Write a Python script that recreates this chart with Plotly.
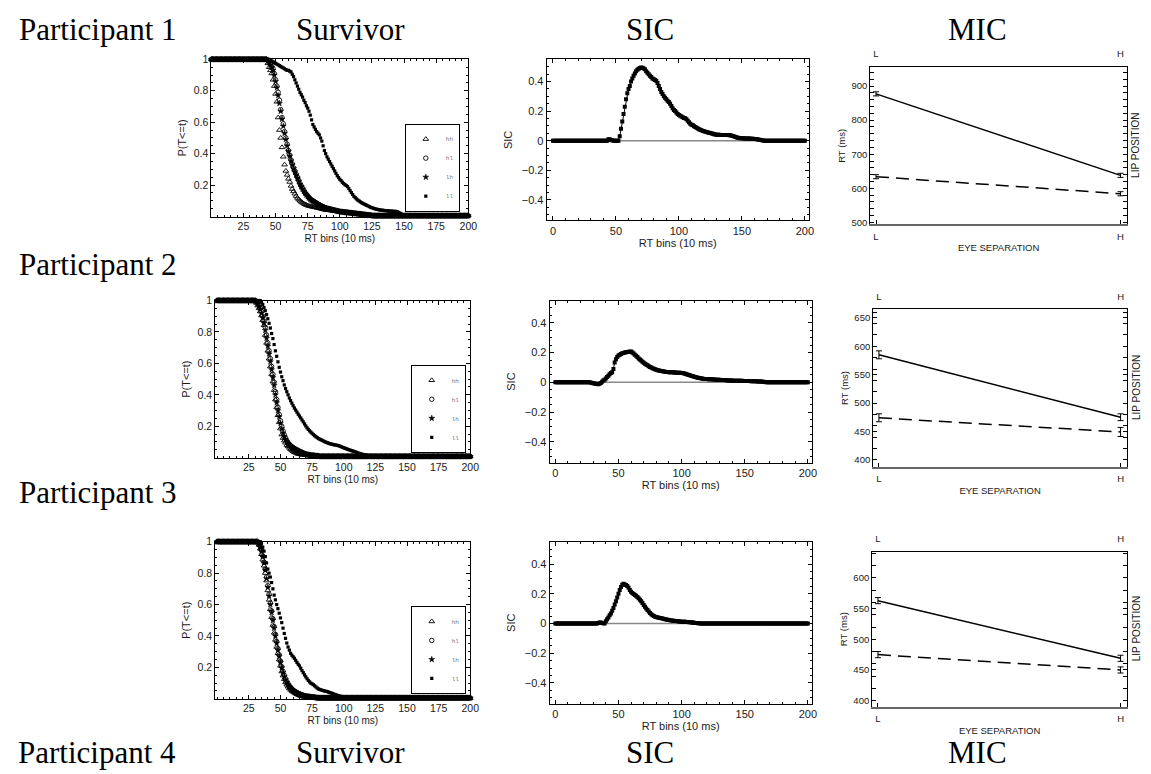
import plotly.graph_objects as go

W, H = 1151, 774

# ---------------- data ----------------
BINS = list(range(201))
CONDITIONS = ["hh", "hl", "lh", "ll"]
PARTICIPANTS = ["Participant 1", "Participant 2", "Participant 3", "Participant 4"]
COLUMN_TITLES = ["Survivor", "SIC", "MIC"]
FACTOR_LEVELS = ["L", "H"]
SURV_XTICKS = [25, 50, 75, 100, 125, 150, 175, 200]
SURV_YTICKS = [0.2, 0.4, 0.6, 0.8, 1.0]
SIC_XTICKS = [0, 50, 100, 150, 200]
SIC_YTICKS = [-0.4, -0.2, 0, 0.2, 0.4]

# Survivor functions: value 1 before onset bin, then the falling part, then a flat tail
P1_HH_ONSET, P1_HH_TAIL = 43, 0.005
P1_HH = [0.995,0.975,0.95,0.93,0.91,0.87,0.83,0.78,0.73,0.63,0.55,0.50,0.44,0.38,0.33,0.29,0.265,0.24,0.22,0.195,
         0.175,0.16,0.145,0.13,0.118,0.108,0.1,0.093,0.087,0.081,0.077,0.073,0.07,0.067,0.065,0.063,0.061,0.06,0.058,0.056,
         0.054,0.052,0.05,0.048,0.046,0.044,0.042,0.041,0.04,0.039,0.038,0.037,0.036,0.035,0.034,0.033,0.032,0.031,0.03,
         0.029,0.028,0.027,0.026,0.025,0.024,0.023,0.022,0.021,0.02,0.019,0.018,0.017,0.016,0.015,0.014,0.013,0.012,0.011,
         0.01,0.009,0.008,0.007,0.006]
P1_HL_ONSET, P1_HL_TAIL = 44, 0.005
P1_HL = [0.995,0.985,0.97,0.955,0.94,0.91,0.87,0.83,0.79,0.74,0.68,0.63,0.59,0.54,0.50,0.46,0.42,0.39,0.36,0.335,
         0.31,0.29,0.27,0.25,0.23,0.21,0.195,0.18,0.165,0.15,0.14,0.13,0.12,0.112,0.105,0.1,0.095,0.09,0.085,0.08,
         0.075,0.07,0.066,0.062,0.058,0.055,0.052,0.05,0.048,0.046,0.044,0.042,0.04,0.038,0.036,0.034,0.032,0.031,0.03,
         0.029,0.028,0.027,0.026,0.025,0.024,0.023,0.022,0.021,0.02,0.019,0.018,0.017,0.016,0.015,0.014,0.013,0.012,
         0.011,0.01,0.009,0.008,0.007]
P1_LH_ONSET, P1_LH_TAIL = 44, 0.005
P1_LH = [0.99,0.98,0.965,0.95,0.93,0.9,0.86,0.82,0.77,0.72,0.67,0.62,0.575,0.53,0.49,0.45,0.415,0.385,0.355,0.33,
         0.305,0.285,0.265,0.245,0.225,0.205,0.19,0.175,0.16,0.148,0.137,0.127,0.118,0.11,0.103,0.097,0.092,0.087,0.082,
         0.077,0.072,0.068,0.064,0.06,0.057,0.054,0.051,0.049,0.047,0.045,0.043,0.041,0.039,0.037,0.035,0.033,0.031,0.03,
         0.029,0.028,0.027,0.026,0.025,0.024,0.023,0.022,0.021,0.02,0.019,0.018,0.017,0.016,0.015,0.014,0.013,0.012,
         0.011,0.01,0.009,0.008,0.007,0.006]
P1_LL_ONSET, P1_LL_TAIL = 46, 0.005
P1_LL = [0.995,0.99,0.985,0.98,0.975,0.97,0.965,0.96,0.955,0.95,0.945,0.94,0.935,0.93,0.93,0.925,0.92,0.905,0.89,0.87,
         0.85,0.83,0.81,0.79,0.775,0.76,0.74,0.725,0.705,0.69,0.67,0.645,0.615,0.586,0.57,0.555,0.54,0.53,0.52,0.5,
         0.48,0.45,0.42,0.4,0.38,0.365,0.35,0.335,0.32,0.305,0.29,0.275,0.26,0.248,0.237,0.228,0.218,0.21,0.203,0.197,
         0.19,0.178,0.165,0.152,0.14,0.128,0.12,0.112,0.105,0.099,0.093,0.088,0.083,0.079,0.075,0.071,0.067,0.063,0.059,
         0.056,0.053,0.05,0.048,0.046,0.044,0.042,0.041,0.04,0.039,0.038,0.037,0.036,0.035,0.035,0.034,0.034,0.033,0.033,
         0.032,0.03,0.025,0.02,0.015,0.012,0.01,0.009,0.009,0.008,0.008,0.008,0.007,0.007,0.007,0.006,0.006]

P2_HH_ONSET, P2_HH_TAIL = 30, 0.008
P2_HH = [0.995,0.985,0.968,0.95,0.93,0.905,0.875,0.842,0.78,0.73,0.68,0.63,0.58,0.53,0.484,0.43,0.37,0.32,0.27,0.225,
         0.185,0.147,0.125,0.108,0.095,0.08,0.072,0.062,0.053,0.046,0.04,0.035,0.031,0.027,0.024,0.022,0.02,0.019,0.018,
         0.017,0.016,0.015,0.014,0.014,0.013,0.013,0.012,0.012,0.011,0.011,0.01]
P2_HL_ONSET, P2_HL_TAIL = 31, 0.008
P2_HL = [0.995,0.985,0.97,0.95,0.93,0.9,0.87,0.83,0.78,0.73,0.68,0.63,0.58,0.53,0.48,0.42,0.37,0.32,0.275,0.235,
         0.2,0.17,0.145,0.125,0.108,0.095,0.085,0.077,0.07,0.064,0.058,0.053,0.048,0.044,0.04,0.036,0.032,0.028,0.025,
         0.022,0.02,0.018,0.017,0.016,0.015,0.014,0.013,0.012,0.011,0.01]
P2_LH_ONSET, P2_LH_TAIL = 31, 0.008
P2_LH = [0.99,0.98,0.965,0.945,0.92,0.89,0.855,0.81,0.76,0.71,0.66,0.61,0.56,0.51,0.46,0.4,0.35,0.3,0.26,0.22,
         0.185,0.158,0.135,0.117,0.102,0.09,0.08,0.073,0.067,0.062,0.057,0.053,0.049,0.045,0.041,0.037,0.033,0.029,0.026,
         0.023,0.021,0.019,0.017,0.016,0.015,0.014,0.013,0.012,0.011,0.01]
P2_LL_ONSET, P2_LL_TAIL = 35, 0.006
P2_LL = [0.99,0.975,0.955,0.935,0.91,0.884,0.855,0.825,0.79,0.758,0.72,0.68,0.645,0.61,0.575,0.545,0.515,0.49,0.463,0.44,
         0.42,0.4,0.38,0.363,0.347,0.331,0.316,0.303,0.29,0.277,0.265,0.253,0.24,0.228,0.215,0.202,0.19,0.18,0.171,0.163,
         0.155,0.147,0.14,0.134,0.128,0.122,0.118,0.114,0.11,0.106,0.102,0.098,0.095,0.092,0.089,0.087,0.085,0.083,0.081,
         0.08,0.078,0.076,0.073,0.07,0.066,0.063,0.06,0.057,0.054,0.051,0.048,0.045,0.043,0.04,0.037,0.034,0.031,0.028,
         0.025,0.023,0.021,0.019,0.017,0.015,0.014,0.013,0.012,0.011,0.01,0.009,0.008]

P3_HH_ONSET, P3_HH_TAIL = 32, 0.005
P3_HH = [0.995,0.98,0.955,0.92,0.885,0.847,0.8,0.752,0.69,0.63,0.57,0.52,0.47,0.42,0.375,0.33,0.29,0.25,0.21,0.174,
         0.148,0.125,0.105,0.09,0.077,0.066,0.057,0.05,0.044,0.039,0.034,0.029,0.025,0.022,0.019,0.016,0.014,0.013,0.012,
         0.011,0.01,0.009,0.008,0.007]
P3_HL_ONSET, P3_HL_TAIL = 33, 0.006
P3_HL = [0.99,0.97,0.945,0.91,0.87,0.825,0.775,0.72,0.665,0.61,0.56,0.51,0.46,0.41,0.365,0.32,0.28,0.24,0.205,0.175,
         0.15,0.128,0.11,0.095,0.083,0.072,0.063,0.056,0.05,0.045,0.04,0.036,0.032,0.028,0.025,0.022,0.02,0.018,0.016,
         0.015,0.014,0.013,0.012,0.011,0.01,0.009]
P3_LH_ONSET, P3_LH_TAIL = 33, 0.006
P3_LH = [0.985,0.965,0.94,0.905,0.865,0.82,0.765,0.71,0.655,0.6,0.55,0.5,0.45,0.4,0.355,0.31,0.27,0.232,0.198,0.168,
         0.143,0.122,0.105,0.09,0.078,0.068,0.06,0.053,0.047,0.042,0.037,0.033,0.029,0.026,0.023,0.02,0.018,0.016,0.015,
         0.014,0.013,0.012,0.011,0.01,0.009,0.008]
P3_LL_ONSET, P3_LL_TAIL = 35, 0.004
P3_LL = [0.99,0.965,0.94,0.905,0.865,0.826,0.8,0.775,0.74,0.7,0.66,0.63,0.6,0.574,0.545,0.515,0.485,0.45,0.416,0.385,
         0.355,0.33,0.31,0.29,0.278,0.268,0.258,0.245,0.232,0.22,0.21,0.195,0.18,0.167,0.153,0.14,0.128,0.117,0.108,0.1,
         0.095,0.09,0.083,0.076,0.069,0.063,0.06,0.057,0.054,0.052,0.05,0.048,0.046,0.043,0.04,0.037,0.034,0.031,0.028,
         0.025,0.022,0.02,0.017,0.015,0.012,0.01,0.008,0.006]

# SIC: zero before start bin, values, then zero
SIC_P1_START = 43
SIC_P1 = [0.0,0.01,0.01,0.005,0.002,0.0,0.0,0.0,0.0,0.0,0.03,0.08,0.13,0.18,0.23,0.28,0.32,0.35,0.37,0.4,
          0.42,0.44,0.455,0.47,0.48,0.487,0.492,0.495,0.493,0.488,0.483,0.47,0.46,0.45,0.44,0.43,0.42,0.415,0.41,0.405,
          0.39,0.37,0.35,0.33,0.315,0.3,0.29,0.28,0.27,0.262,0.25,0.235,0.22,0.207,0.2,0.19,0.18,0.173,0.168,0.163,
          0.158,0.154,0.151,0.145,0.135,0.125,0.115,0.108,0.104,0.098,0.092,0.087,0.082,0.077,0.073,0.07,0.066,0.063,
          0.06,0.058,0.055,0.053,0.051,0.049,0.046,0.043,0.041,0.04,0.04,0.04,0.039,0.039,0.039,0.039,0.038,0.038,0.038,
          0.037,0.036,0.034,0.031,0.028,0.025,0.022,0.02,0.018,0.017,0.016,0.016,0.015,0.015,0.015,0.014,0.014,0.013,
          0.013,0.013,0.012,0.011,0.01,0.008,0.006,0.004,0.002,0.001]
SIC_P2_START = 27
SIC_P2 = [0.0,-0.002,-0.004,-0.006,-0.008,-0.01,-0.012,-0.013,-0.01,-0.004,0.004,0.012,0.018,0.025,0.035,0.045,0.055,
          0.062,0.067,0.09,0.133,0.155,0.17,0.18,0.186,0.191,0.195,0.198,0.2,0.202,0.204,0.205,0.206,0.207,0.2,0.193,
          0.186,0.178,0.17,0.16,0.153,0.146,0.139,0.132,0.125,0.12,0.114,0.108,0.103,0.099,0.095,0.092,0.088,0.085,0.082,
          0.08,0.078,0.076,0.074,0.072,0.071,0.07,0.069,0.068,0.068,0.067,0.067,0.066,0.066,0.065,0.065,0.064,0.064,0.063,
          0.062,0.06,0.057,0.054,0.051,0.049,0.046,0.043,0.04,0.037,0.035,0.033,0.031,0.029,0.027,0.025,0.024,0.023,0.022,
          0.022,0.021,0.021,0.02,0.02,0.019,0.019,0.018,0.018,0.017,0.017,0.016,0.016,0.015,0.015,0.014,0.014,0.013,0.013,
          0.012,0.012,0.011,0.011,0.011,0.01,0.01,0.01,0.01,0.01,0.009,0.009,0.009,0.009,0.009,0.009,0.008,0.008,0.008,
          0.007,0.007,0.006,0.006,0.005,0.005,0.004,0.003,0.002,0.001,0.0]
SIC_P3_START = 34
SIC_P3 = [0.004,0.007,0.006,0.004,0.002,0.0,0.015,0.028,0.04,0.055,0.067,0.085,0.105,0.127,0.15,0.175,0.2,0.225,0.245,
          0.26,0.267,0.263,0.258,0.252,0.24,0.225,0.213,0.205,0.198,0.192,0.187,0.178,0.169,0.16,0.15,0.138,0.125,0.113,
          0.1,0.09,0.08,0.07,0.062,0.055,0.05,0.046,0.043,0.041,0.039,0.037,0.035,0.033,0.031,0.029,0.027,0.025,0.023,
          0.021,0.02,0.019,0.018,0.017,0.016,0.015,0.014,0.013,0.012,0.012,0.011,0.011,0.01,0.01,0.009,0.008,0.007,0.006,
          0.005,0.004,0.003,0.002,0.001,0.0]

# MIC: mean RT (ms) at eye separation L/H, for lip position L (solid) and H (dashed)
MIC_P1_LIP_L, MIC_P1_LIP_L_ERR = [877, 638], [6, 6]
MIC_P1_LIP_H, MIC_P1_LIP_H_ERR = [634, 584], [6, 6]
MIC_P2_LIP_L, MIC_P2_LIP_L_ERR = [585, 475], [7, 6]
MIC_P2_LIP_H, MIC_P2_LIP_H_ERR = [474, 449], [7, 8]
MIC_P3_LIP_L, MIC_P3_LIP_L_ERR = [563, 469], [5, 5]
MIC_P3_LIP_H, MIC_P3_LIP_H_ERR = [475, 450], [5, 5]
MIC_YTICKS = [[500, 600, 700, 800, 900], [400, 450, 500, 550, 600, 650], [400, 450, 500, 550, 600]]
MIC_YRANGES = [[494, 955], [388, 665], [390, 643]]


def survivor(onset, drop, tail):
    vals = [1.0] * onset + list(drop)
    return vals + [tail] * (len(BINS) - len(vals))


def sic(start, vals):
    out = [0.0] * start + list(vals)
    return out + [0.0] * (len(BINS) - len(out))


SURV = [
    [survivor(P1_HH_ONSET, P1_HH, P1_HH_TAIL), survivor(P1_HL_ONSET, P1_HL, P1_HL_TAIL),
     survivor(P1_LH_ONSET, P1_LH, P1_LH_TAIL), survivor(P1_LL_ONSET, P1_LL, P1_LL_TAIL)],
    [survivor(P2_HH_ONSET, P2_HH, P2_HH_TAIL), survivor(P2_HL_ONSET, P2_HL, P2_HL_TAIL),
     survivor(P2_LH_ONSET, P2_LH, P2_LH_TAIL), survivor(P2_LL_ONSET, P2_LL, P2_LL_TAIL)],
    [survivor(P3_HH_ONSET, P3_HH, P3_HH_TAIL), survivor(P3_HL_ONSET, P3_HL, P3_HL_TAIL),
     survivor(P3_LH_ONSET, P3_LH, P3_LH_TAIL), survivor(P3_LL_ONSET, P3_LL, P3_LL_TAIL)],
]
SICS = [sic(SIC_P1_START, SIC_P1), sic(SIC_P2_START, SIC_P2), sic(SIC_P3_START, SIC_P3)]
MICS = [
    (MIC_P1_LIP_L, MIC_P1_LIP_L_ERR, MIC_P1_LIP_H, MIC_P1_LIP_H_ERR),
    (MIC_P2_LIP_L, MIC_P2_LIP_L_ERR, MIC_P2_LIP_H, MIC_P2_LIP_H_ERR),
    (MIC_P3_LIP_L, MIC_P3_LIP_L_ERR, MIC_P3_LIP_H, MIC_P3_LIP_H_ERR),
]

# ---------------- layout geometry (pixels) ----------------
SURV_BOX = [(213, 472, 54, 213), (217, 474, 298, 457), (217, 474, 542, 701)]
SURV_XRANGE = [[0, 200], [-1.5, 200], [-1.5, 200]]
SIC_BOX = [(551, 815, 54, 217), (554, 818, 298, 462), (554, 818, 542, 706)]
MIC_BOX = [(877, 1136, 62, 221), (880, 1136, 307, 466), (879, 1136, 552, 709)]
LEGEND_POS = [(408, 119), (414, 363), (414, 607)]
ROW_LABEL_Y = [24, 262, 492]
COL_TITLE_X = [353, 655, 985]

SANS = "Liberation Sans"
SERIF = "Liberation Serif"
INK = "#1a1a1a"


def fx(p):
    return p / W


def fy(p):
    return 1 - p / H


fig = go.Figure()
lay = {}


def ax_names(k):
    s = "" if k == 1 else str(k)
    return "x" + s, "y" + s, "xaxis" + s, "yaxis" + s


def frame_axis(domain, rng, **kw):
    d = dict(domain=domain, range=rng, showgrid=False, zeroline=False, showline=True,
             linecolor="black", linewidth=1, ticks="inside", ticklen=4, tickcolor="black",
             tickfont=dict(family=SANS, size=11, color=INK), mirror="allticks")
    d.update(kw)
    return d


SYMBOLS = ["triangle-up-open", "circle-open", "star", "square"]
SIZES = [5, 4.5, 4.5, 3.2]
LINEW = [0.9, 0.9, 0.5, 0]

for r in range(3):
    # ---- survivor ----
    k = r * 3 + 1
    xn, yn, xk, yk = ax_names(k)
    x0, x1, y0, y1 = SURV_BOX[r]
    leg = "legend" if r == 0 else "legend%d" % (r + 1)
    for i, cond in enumerate(CONDITIONS):
        fig.add_trace(go.Scatter(
            x=BINS, y=SURV[r][i], mode="markers", name=cond, xaxis=xn, yaxis=yn,
            legend=leg, cliponaxis=False,
            marker=dict(symbol=SYMBOLS[i], size=SIZES[i], color="black",
                        line=dict(color="black", width=LINEW[i]))))
    lay[xk] = frame_axis([fx(x0), fx(x1)], SURV_XRANGE[r], anchor=yn, tickvals=SURV_XTICKS,
                         minor=dict(ticks="inside", ticklen=2, dtick=5, tickcolor="black"),
                         tickfont=dict(family=SANS, size=10.5, color=INK),
                         title=dict(text="RT bins (10 ms)", font=dict(family=SANS, size=10, color=INK), standoff=3))
    lay[yk] = frame_axis([fy(y1), fy(y0)], [0, 1], anchor=xn, tickvals=SURV_YTICKS,
                         ticktext=["0.2", "0.4", "0.6", "0.8", "1"],
                         tickfont=dict(family=SANS, size=10.5, color=INK),
                         minor=dict(ticks="inside", ticklen=2, dtick=0.05, tickcolor="black"),
                         title=dict(text="P(T<=t)", font=dict(family=SANS, size=11, color=INK), standoff=4))
    lx, ly = LEGEND_POS[r]
    lay[leg] = dict(x=fx(lx), y=fy(ly), xanchor="left", yanchor="top", bgcolor="white",
                    bordercolor="black", borderwidth=1, tracegroupgap=0,
                    font=dict(family="Liberation Mono", size=6, color="#777"), itemwidth=30)

    # ---- SIC ----
    k = r * 3 + 2
    xn, yn, xk, yk = ax_names(k)
    x0, x1, y0, y1 = SIC_BOX[r]
    fig.add_shape(type="line", xref=xn, yref=yn, x0=SIC_XTICKS[0], x1=SIC_XTICKS[-1], y0=0, y1=0,
                  line=dict(color="#888", width=1.5), layer="below")
    fig.add_trace(go.Scatter(
        x=BINS, y=SICS[r], mode="lines+markers", xaxis=xn, yaxis=yn, showlegend=False,
        line=dict(color="black", width=1), marker=dict(symbol="square", size=4, color="black")))
    lay[xk] = frame_axis([fx(x0), fx(x1)], [-5, 203] if r == 0 else [-4.5, 203], anchor=yn,
                         tickvals=SIC_XTICKS,
                         minor=dict(ticks="inside", ticklen=2, dtick=10, tickcolor="black"),
                         title=dict(text="RT bins (10 ms)", font=dict(family=SANS, size=11, color=INK), standoff=3))
    lay[yk] = frame_axis([fy(y1), fy(y0)], [-0.54, 0.55], anchor=xn, tickvals=SIC_YTICKS,
                         ticktext=["\u22120.4", "\u22120.2", "0", "0.2", "0.4"],
                         minor=dict(ticks="inside", ticklen=2, dtick=0.05, tickcolor="black"),
                         title=dict(text="SIC", font=dict(family=SANS, size=11, color=INK), standoff=6))

    # ---- MIC ----
    k = r * 3 + 3
    xn, yn, xk, yk = ax_names(k)
    x0, x1, y0, y1 = MIC_BOX[r]
    lipL, lipLe, lipH, lipHe = MICS[r]
    fig.add_trace(go.Scatter(
        x=[0, 1], y=lipL, mode="lines", xaxis=xn, yaxis=yn, showlegend=False,
        line=dict(color="black", width=1.5),
        error_y=dict(type="data", array=lipLe, color="black", thickness=1, width=3)))
    fig.add_trace(go.Scatter(
        x=[0, 1], y=lipH, mode="lines", xaxis=xn, yaxis=yn, showlegend=False,
        line=dict(color="black", width=1.5, dash="13px,7px"),
        error_y=dict(type="data", array=lipHe, color="black", thickness=1, width=3)))
    tick_small = dict(family=SANS, size=9.5, color=INK)
    lay[xk] = frame_axis([fx(x0), fx(x1)], [-0.024, 1.027], anchor=yn, tickvals=[0, 1],
                         ticktext=FACTOR_LEVELS, mirror=False, linecolor="#666", linewidth=2,
                         tickfont=tick_small, ticklabelstandoff=2,
                         title=dict(text="EYE SEPARATION", font=tick_small, standoff=4))
    lay[yk] = frame_axis([fy(y1), fy(y0)], MIC_YRANGES[r], anchor=xn, tickvals=MIC_YTICKS[r],
                         tickfont=tick_small,
                         minor=dict(ticks="inside", ticklen=2, nticks=5, tickcolor="black"),
                         title=dict(text="RT (ms)", font=tick_small, standoff=4))
    # top axis repeating the factor levels
    kt = 10 + r
    xtn, _, xtk, _ = ax_names(kt)
    fig.add_trace(go.Scatter(x=[0, 1], y=lipL, mode="lines", xaxis=xtn, yaxis=yn, showlegend=False,
                             opacity=0, hoverinfo="skip"))
    lay[xtk] = frame_axis([fx(x0), fx(x1)], [-0.024, 1.027], anchor=yn, overlaying=xn, side="top",
                          tickvals=[0, 1], ticktext=FACTOR_LEVELS, mirror=False, tickfont=tick_small,
                          ticks="", ticklabelstandoff=5)
    fig.add_annotation(x=fx(x1) + 9 / W, y=(fy(y0) + fy(y1)) / 2, xref="paper", yref="paper",
                       text="LIP POSITION", textangle=-90, showarrow=False,
                       font=dict(family=SANS, size=10, color=INK), xanchor="center", yanchor="middle")

# row and column titles
title_font = dict(family=SERIF, size=31, color="black")
for i in range(3):
    fig.add_annotation(x=fx(17), y=fy(ROW_LABEL_Y[i]), xref="paper", yref="paper", text=PARTICIPANTS[i],
                       showarrow=False, xanchor="left", yanchor="middle", font=title_font)
fig.add_annotation(x=fx(17), y=0, xref="paper", yref="paper", text=PARTICIPANTS[3],
                   showarrow=False, xanchor="left", yanchor="bottom", font=title_font, borderpad=0)
for j, t in enumerate(COLUMN_TITLES):
    fig.add_annotation(x=fx(COL_TITLE_X[j]), y=fy(ROW_LABEL_Y[0]), xref="paper", yref="paper", text=t,
                       showarrow=False, xanchor="center", yanchor="middle", font=title_font)
    fig.add_annotation(x=fx(COL_TITLE_X[j]), y=0, xref="paper", yref="paper", text=t,
                       showarrow=False, xanchor="center", yanchor="bottom", font=title_font, borderpad=0)

fig.update_layout(width=W, height=H, margin=dict(l=0, r=0, t=0, b=0),
                  paper_bgcolor="white", plot_bgcolor="white", **lay)
fig.write_html("out.html")
